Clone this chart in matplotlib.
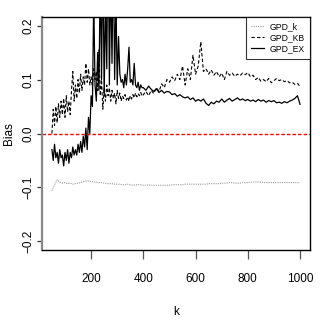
import numpy as np
import matplotlib
matplotlib.use("Agg")
import matplotlib.pyplot as plt
from matplotlib import font_manager

# ---------------- data ----------------
k_fine = np.r_[np.arange(50, 400, 5), np.arange(400, 1001, 10)]

gpd_ex = [
    -0.03, -0.05, -0.02, -0.045, -0.035, -0.055, -0.03, -0.045, -0.04, -0.06,
    -0.035, -0.05, -0.03, -0.055, -0.035, -0.045, -0.025, -0.04, -0.03, -0.04,
    -0.02, -0.035, -0.015, -0.035, -0.005, -0.025, 0.01, -0.03, 0.03, 0.0,
    0.07, 0.05, 0.25, 0.09, 0.06, 0.15, 0.08, 0.30, 0.10, 0.35,
    0.07, 0.25, 0.12, 0.40, 0.09, 0.30, 0.13, 0.35, 0.10, 0.25,
    0.09, 0.18, 0.11, 0.095, 0.10, 0.085, 0.11, 0.09, 0.12, 0.16,
    0.095, 0.10, 0.09, 0.13, 0.09, 0.085, 0.095, 0.08, 0.09, 0.085,
    # 400 .. 1000 step 10
    0.085, 0.08, 0.088, 0.082, 0.078, 0.083, 0.076, 0.08, 0.075, 0.078,
    0.077, 0.072, 0.074, 0.069, 0.072, 0.068, 0.066, 0.068, 0.063, 0.066,
    0.06, 0.063, 0.06, 0.064, 0.056, 0.052, 0.058, 0.055, 0.06, 0.058,
    0.064, 0.058, 0.062, 0.065, 0.06, 0.063, 0.066, 0.062, 0.064, 0.061,
    0.063, 0.06, 0.062, 0.059, 0.063, 0.06, 0.062, 0.058, 0.061, 0.059,
    0.061, 0.057, 0.058, 0.056, 0.059, 0.057, 0.06, 0.062, 0.065, 0.07,
    0.054,
]

gpd_kb = [
    0.0, 0.045, 0.015, 0.05, 0.02, 0.055, 0.03, 0.06, 0.035, 0.065,
    0.03, 0.07, 0.04, 0.06, 0.035, 0.08, 0.115, 0.06, 0.09, 0.065,
    0.10, 0.075, 0.11, 0.08, 0.105, 0.09, 0.13, 0.095, 0.12, 0.09,
    0.105, 0.085, 0.12, 0.10, 0.115, 0.08, 0.155, 0.07, 0.10, 0.045,
    0.085, 0.06, 0.09, 0.07, 0.085, 0.06, 0.08, 0.065, 0.075, 0.055,
    0.08, 0.065, 0.075, 0.06, 0.07, 0.065, 0.072, 0.062, 0.068, 0.06,
    0.07, 0.064, 0.072, 0.066, 0.075, 0.068, 0.074, 0.07, 0.076, 0.069,
    # 400 .. 1000 step 10
    0.072, 0.078, 0.07, 0.08, 0.074, 0.085, 0.078, 0.092, 0.085, 0.10,
    0.095, 0.105, 0.098, 0.11, 0.10, 0.125, 0.09, 0.12, 0.10, 0.145,
    0.11, 0.125, 0.17, 0.115, 0.12, 0.11, 0.118, 0.108, 0.115, 0.105,
    0.112, 0.10, 0.115, 0.108, 0.112, 0.106, 0.11, 0.107, 0.112, 0.109,
    0.113, 0.105, 0.108, 0.10, 0.104, 0.097, 0.10, 0.096, 0.102, 0.094,
    0.098, 0.102, 0.098, 0.10, 0.096, 0.098, 0.094, 0.095, 0.091, 0.093,
    0.087,
]

k_coarse = np.arange(50, 1001, 10)
gpd_k = [
    -0.106, -0.095, -0.086, -0.090, -0.092, -0.091, -0.093, -0.092, -0.094, -0.093,
    -0.092, -0.091, -0.089, -0.088, -0.088, -0.089, -0.090, -0.090, -0.091, -0.091,
    -0.092, -0.093, -0.093, -0.093, -0.094, -0.094, -0.094, -0.095, -0.095, -0.094,
    -0.095, -0.096, -0.095, -0.095, -0.095, -0.096, -0.096, -0.095, -0.096, -0.096,
    -0.096, -0.096, -0.096, -0.096, -0.096, -0.096, -0.095, -0.095, -0.095, -0.095,
    -0.095, -0.094, -0.094, -0.094, -0.094, -0.094, -0.094, -0.094, -0.094, -0.094,
    -0.093, -0.093, -0.093, -0.093, -0.093, -0.092, -0.092, -0.092, -0.091, -0.091,
    -0.092, -0.092, -0.092, -0.091, -0.091, -0.091, -0.090, -0.090, -0.090, -0.090,
    -0.090, -0.091, -0.091, -0.091, -0.091, -0.091, -0.091, -0.091, -0.091, -0.091,
    -0.091, -0.091, -0.091, -0.091, -0.091, -0.091,
]

x_ticks = [200, 400, 600, 800, 1000]
y_ticks = [-0.2, -0.1, 0.0, 0.1, 0.2]
y_ticklabels = ["\u22120.2", "\u22120.1", "0.0", "0.1", "0.2"]
legend_labels = ["GPD_k", "GPD_KB", "GPD_EX"]

# ---------------- fonts ----------------
names = {f.name for f in font_manager.fontManager.ttflist}
fam = ["Liberation Sans Narrow", "Liberation Sans", "DejaVu Sans"]
fam = [f for f in fam if f in names] or ["DejaVu Sans"]
plt.rcParams["font.family"] = fam

# ---------------- figure ----------------
fig = plt.figure(figsize=(3.2, 3.27), dpi=100)
ax = fig.add_axes([42 / 320, 1 - 250 / 327, 268 / 320, 233 / 327])

ax.plot(k_coarse, gpd_k, color="#9a9a9a", lw=0.8, linestyle=(0, (1, 1)), label=legend_labels[0])
ax.plot(k_fine, gpd_kb, color="black", lw=0.8, linestyle=(0, (3, 2)), label=legend_labels[1])
ax.plot(k_fine, gpd_ex, color="black", lw=0.9, linestyle="-", label=legend_labels[2])
ax.axhline(0.0, color="red", lw=1.0, linestyle=(0, (2.5, 1.5)))

ax.set_xlim(12, 1038)
ax.set_ylim(-0.216, 0.216)
ax.set_xticks(x_ticks)
ax.set_xticklabels([str(v) for v in x_ticks], fontsize=8.5)
ax.set_yticks(y_ticks)
ax.set_yticklabels(y_ticklabels, fontsize=8.5, rotation=90, va="center")
ax.tick_params(axis="x", direction="out", length=6.5, width=0.9, color="#555555", pad=10)
ax.tick_params(axis="y", direction="out", length=3.5, width=0.9, color="#333333", pad=2)

for s in ["top", "right", "bottom"]:
    ax.spines[s].set_color("black")
    ax.spines[s].set_linewidth(1.0)
ax.spines["left"].set_color("#8a8a8a")
ax.spines["left"].set_linewidth(1.6)

ax.set_xlabel("k", fontsize=8.5, labelpad=15)
ax.set_ylabel("Bias", fontsize=8.5, labelpad=5)

leg = ax.legend(loc="upper right", fontsize=6.2, frameon=True, fancybox=False,
                borderaxespad=0, handlelength=1.5, handletextpad=0.7,
                labelspacing=0.25, borderpad=0.6, edgecolor="black")
leg.get_frame().set_linewidth(0.8)

fig.savefig("out.png", dpi=100)
